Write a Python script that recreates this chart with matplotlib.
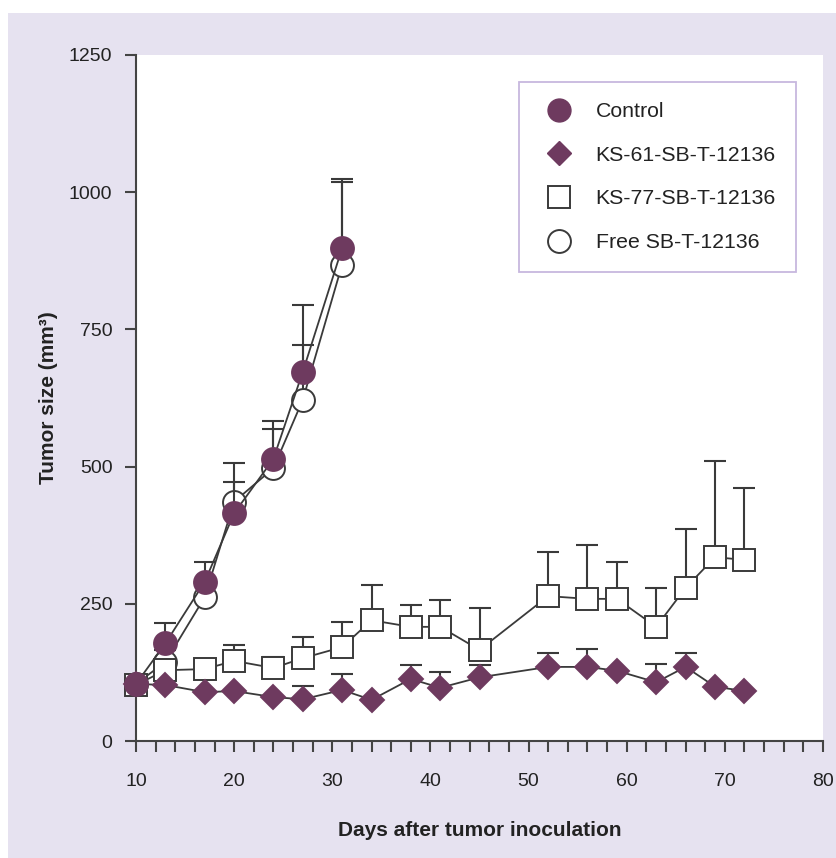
import matplotlib
matplotlib.use("Agg")
import numpy as np
import matplotlib.pyplot as plt
from matplotlib.lines import Line2D
from matplotlib.patches import Rectangle

plt.rcParams['font.family'] = ['Liberation Sans', 'DejaVu Sans']

# tumour size (mm^3) per day after inoculation; *_top = top of the SD bar (0 = none drawn)
days_ctrl = [10, 13, 17, 20, 24, 27, 31]
control = [104, 178, 290, 415, 514, 673, 898]
control_top = [0, 215, 326, 472, 583, 794, 1024]

free = [104, 144, 262, 436, 497, 622, 868]
free_top = [0, 165, 285, 506, 568, 721, 1018]

days_ks = [10, 13, 17, 20, 24, 27, 31, 34, 38, 41, 45, 52, 56, 59, 63, 66, 69, 72]
ks77 = [102, 129, 131, 146, 133, 151, 171, 220, 208, 208, 166, 264, 259, 259, 208, 279, 335, 330]
ks77_top = [0, 140, 145, 175, 153, 190, 217, 284, 248, 257, 242, 344, 357, 326, 279, 386, 510, 461]

ks61 = [104, 102, 89, 91, 80, 76, 93, 75, 113, 97, 116, 135, 135, 128, 107, 135, 99, 91]
ks61_top = [0, 0, 0, 0, 0, 100, 122, 0, 138, 125, 138, 160, 167, 0, 140, 160, 0, 0]

labels = ['Control', 'KS-61-SB-T-12136', 'KS-77-SB-T-12136', 'Free SB-T-12136']

purple = '#6e3a5f'
ink = '#3a3a3a'
lavender = '#e6e2f0'
MS = 16.5
MS_D = 12.5


def upper_bars(ax, x, y, top, z):
    x, y, top = np.array(x), np.array(y), np.array(top)
    m = top > y
    ax.vlines(x[m], y[m], top[m], color=ink, lw=1.5, zorder=z, clip_on=False)
    ax.plot(x[m], top[m], ls='none', marker='_', ms=16, mew=1.5, color=ink,
            zorder=z, clip_on=False)


def series(ax, x, y, top, marker, face, edge, ms, z):
    upper_bars(ax, x, y, top, z)
    ax.plot(x, y, color=ink, lw=1.3, zorder=z + 0.1, clip_on=False)
    ax.plot(x, y, ls='none', marker=marker, ms=ms, mfc=face, mec=edge, mew=1.4,
            zorder=z + 0.2, clip_on=False)


fig = plt.figure(figsize=(8.36, 8.58), dpi=100)
fig.patch.set_facecolor('white')
fig.patches.append(Rectangle((8 / 836, 0), 1, 1 - 13 / 858, transform=fig.transFigure,
                             facecolor=lavender, edgecolor='none', zorder=-10))

ax = fig.add_axes([136 / 836, 1 - 741 / 858, 687 / 836, 686 / 858])
ax.set_facecolor('white')

series(ax, days_ctrl, free, free_top, 'o', 'white', ink, MS, 2)
series(ax, days_ks, ks77, ks77_top, 's', 'white', ink, MS, 3)
series(ax, days_ks, ks61, ks61_top, 'D', purple, purple, MS_D, 4)
series(ax, days_ctrl, control, control_top, 'o', purple, purple, MS, 5)

ax.set_xlim(10, 80)
ax.set_ylim(0, 1250)
ax.set_xticks(range(10, 81, 10))
ax.set_xticks(range(10, 81, 2), minor=True)
ax.set_yticks(range(0, 1251, 250))
for s in ['top', 'right']:
    ax.spines[s].set_visible(False)
for s in ['left', 'bottom']:
    ax.spines[s].set_color('#444444')
    ax.spines[s].set_linewidth(1.5)
ax.tick_params(axis='x', which='both', length=8, width=1.5, color='#444444',
               labelsize=14, pad=15, labelcolor='#222222')
ax.tick_params(axis='y', which='major', length=8, width=1.5, color='#444444',
               labelsize=14, pad=9, labelcolor='#222222')

ax.set_xlabel('Days after tumor inoculation', fontsize=15, fontweight='bold',
              color='#222222', labelpad=22)
ax.set_ylabel('Tumor size (mm³)', fontsize=15, fontweight='bold',
              color='#222222', labelpad=8)

handles = [
    Line2D([], [], ls='none', marker='o', ms=MS, mfc=purple, mec=purple),
    Line2D([], [], ls='none', marker='D', ms=MS_D, mfc=purple, mec=purple),
    Line2D([], [], ls='none', marker='s', ms=MS, mfc='white', mec=ink, mew=1.4),
    Line2D([], [], ls='none', marker='o', ms=MS, mfc='white', mec=ink, mew=1.4),
]
leg = ax.legend(handles, labels, loc='upper left',
                bbox_to_anchor=(519 / 836, 1 - 82 / 858), bbox_transform=fig.transFigure,
                borderaxespad=0, fontsize=15.3, frameon=True, fancybox=False,
                borderpad=0.95, labelspacing=1.16, handlelength=1.9, handletextpad=0.75)
leg.get_frame().set_edgecolor('#b9a6d6')
leg.get_frame().set_linewidth(1.3)
for t in leg.get_texts():
    t.set_color('#222222')

fig.savefig('out.png', dpi=100, facecolor=fig.get_facecolor())
